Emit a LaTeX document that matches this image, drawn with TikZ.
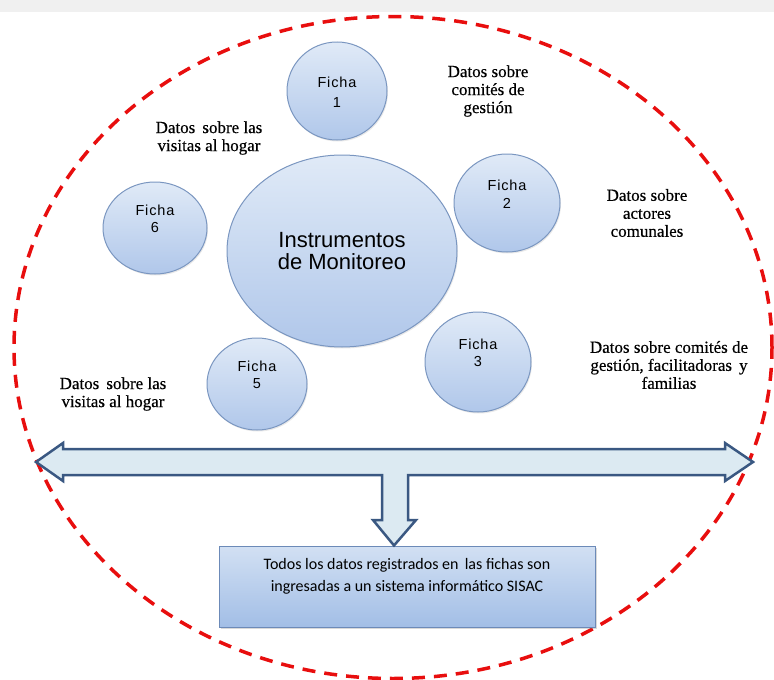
\documentclass[tikz,border=0pt]{standalone}
\usepackage{fontspec}
\setmainfont{Liberation Serif}
\newfontfamily\datosf[FakeBold=0.4]{Liberation Serif}
\newfontfamily\arialf{Liberation Sans}
\newfontfamily\fichaf[LetterSpace=6]{Liberation Sans}
\newfontfamily\calibf{Carlito}
\usetikzlibrary{shapes.geometric,shadows}

\definecolor{balltop}{RGB}{224,234,247}
\definecolor{ballbot}{RGB}{176,199,234}
\definecolor{ballline}{RGB}{122,150,192}
\definecolor{boxtop}{RGB}{210,224,243}
\definecolor{boxbot}{RGB}{162,190,230}
\definecolor{boxline}{RGB}{108,138,184}
\definecolor{arrowfill}{RGB}{220,234,242}
\definecolor{arrowline}{RGB}{58,88,130}
\definecolor{dashred}{RGB}{232,14,14}
\definecolor{stripgray}{RGB}{240,240,240}

\tikzset{
  ficha/.style={ellipse, draw=ballline, line width=1pt, top color=balltop, bottom color=ballbot, inner sep=0pt,
    drop shadow={opacity=0.18, shadow xshift=1pt, shadow yshift=-1.5pt}},
  fichatext/.style={font=\fichaf\fontsize{14.5}{17.5}\selectfont, align=center, inner sep=0pt},
  datos/.style={font=\datosf\fontsize{17}{18}\selectfont, align=center, inner sep=0pt},
}

\begin{document}
\begin{tikzpicture}[x=1pt,y=-1pt]
\useasboundingbox (0,0) rectangle (774,680);
\fill [stripgray] (0,0) rectangle (774,12);

%Shape: Ellipse dashed border
\draw [dashred, line width=3.5pt, dash pattern=on 13pt off 9pt] (393,347.5) ellipse [x radius=379pt, y radius=331pt];

%Shape: Ellipse centre
\node [ficha, minimum width=230, minimum height=192] (instr) at (342,251) {};
\node [font=\arialf\fontsize{22}{22}\selectfont, align=center, inner sep=0pt] (instrt) at (instr.center) {Instrumentos\\de Monitoreo};

%Shape: Circles fichas
\node [ficha, minimum width=100, minimum height=98] (f1) at (337,91) {};
\node [ficha, minimum width=106, minimum height=98] (f2) at (507,203) {};
\node [ficha, minimum width=106, minimum height=100] (f3) at (478,362) {};
\node [ficha, minimum width=100, minimum height=92] (f5) at (257,384) {};
\node [ficha, minimum width=104, minimum height=92] (f6) at (155,228) {};
\node [fichatext, font=\fichaf\fontsize{14.5}{20}\selectfont] (f1t) at ([yshift=-1pt]f1.center) {Ficha\\1};
\node [fichatext] (f2t) at ([yshift=9pt]f2.center) {Ficha\\2};
\node [fichatext] (f3t) at ([yshift=9pt]f3.center) {Ficha\\3};
\node [fichatext] (f5t) at ([yshift=9pt]f5.center) {Ficha\\5};
\node [fichatext] (f6t) at ([yshift=9pt]f6.center) {Ficha\\6};

% Text Node
\node [datos] (d1) at (488,91) {Datos sobre\\comités de\\gestión};
\node [datos] (d2) at (647,213) {Datos sobre\\actores\\comunales};
\node [datos] (d3) at (669,365) {Datos sobre comités de\\gestión, facilitadoras\, y\\familias};
\node [datos] (d6) at (209,138) {Datos \,sobre las\\visitas al hogar};
\node [datos] (d5) at (113,394) {Datos \,sobre las\\visitas al hogar};

%Shape: Rectangle
\node [draw=boxline, line width=1pt, top color=boxtop, bottom color=boxbot, minimum width=376, minimum height=81, inner sep=0pt,
  drop shadow={opacity=0.3, shadow xshift=1.5pt, shadow yshift=-2pt}] (sisac) at (407,586.5) {};
\node [font=\calibf\fontsize{16}{22}\selectfont, align=center, inner sep=0pt] (sisact) at ([yshift=10pt]sisac.center) {Todos los datos registrados en \,las fichas son\\ingresadas a un sistema informático SISAC};

%Shape: Double arrow with down arrow
\coordinate (dtip) at ([xshift=-13pt]sisac.north);
\draw [arrowline, fill=arrowfill, line width=2.5pt, line join=miter]
  (36,462) -- (63,443) -- (63,449) -- (725,449) -- (725,443) -- (753,462) -- (725,481) -- (725,475)
  -- (408,475) -- (408,520) -- (416,520) -- (dtip) -- (373,520) -- (382,520) -- (382,475)
  -- (63,475) -- (63,481) -- cycle;
\end{tikzpicture}
\end{document}
